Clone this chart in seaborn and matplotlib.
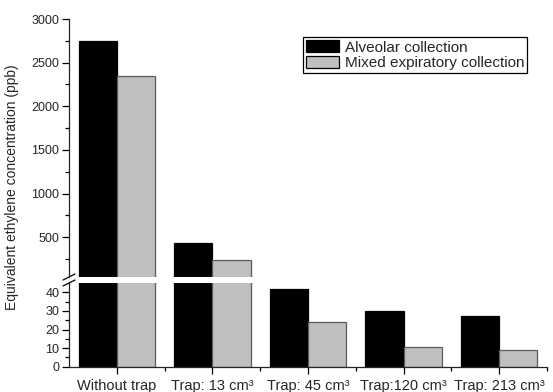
import matplotlib
matplotlib.use("Agg")
import matplotlib.pyplot as plt
from matplotlib.patches import Patch
from matplotlib.lines import Line2D
from matplotlib.ticker import FixedLocator
import seaborn as sns
import pandas as pd

# Measured concentrations (ppb)
categories = ["Without trap", "Trap: 13 cm³", "Trap: 45 cm³",
              "Trap:120 cm³", "Trap: 213 cm³"]
alveolar = [2750, 440, 42, 30, 27]
mixed = [2350, 240, 24, 10.5, 9]
series = ["Alveolar collection", "Mixed expiratory collection"]
colors = ["#000000", "#c0c0c0"]
edges = ["#000000", "#5a5a5a"]

df = pd.DataFrame({
    "trap": categories * 2,
    "value": alveolar + mixed,
    "series": [series[0]] * len(categories) + [series[1]] * len(categories),
})

sns.set_theme(style="ticks")
plt.rcParams["font.family"] = ["Liberation Sans", "DejaVu Sans"]

W, H = 553, 392
fig = plt.figure(figsize=(W / 100, H / 100), dpi=100)
fig.patch.set_facecolor("white")

x0, x1 = 69, 547
top_y0, top_y1 = 19, 277       # pixel rows of upper segment
bot_y0, bot_y1 = 283, 366.7    # pixel rows of lower segment
split = 45                     # value where the axis is broken

def fig_rect(ya, yb):
    return [x0 / W, 1 - yb / H, (x1 - x0) / W, (yb - ya) / H]

ax_top = fig.add_axes(fig_rect(top_y0, top_y1))
ax_bot = fig.add_axes(fig_rect(bot_y0, bot_y1))

for ax in (ax_top, ax_bot):
    sns.barplot(data=df, x="trap", y="value", hue="series",
                order=categories, hue_order=series, palette=colors,
                width=0.8, saturation=1, legend=False, ax=ax)
    for i, cont in enumerate(ax.containers):
        for p in cont:
            p.set_edgecolor(edges[i])
            p.set_linewidth(0.9)
            if ax is ax_top and p.get_height() < split:
                p.set_visible(False)
    ax.set_xlim(-0.5, len(categories) - 0.5)
    ax.set_xlabel("")
    ax.set_ylabel("")
    ax.set_facecolor("white")
    for s in ("top", "right"):
        ax.spines[s].set_visible(False)
    ax.spines["left"].set_linewidth(0.9)
    ax.spines["bottom"].set_linewidth(0.9)
    ax.tick_params(axis="both", which="major", direction="out", length=5,
                   width=0.9, labelsize=9, pad=2, color="black")
    ax.tick_params(axis="both", which="minor", direction="out", length=3,
                   width=0.9, color="black")

# Upper segment
ax_top.set_ylim(split, 3000)
ax_top.spines["bottom"].set_visible(False)
ax_top.tick_params(axis="x", which="both", bottom=False, labelbottom=False)
ax_top.yaxis.set_major_locator(FixedLocator([500, 1000, 1500, 2000, 2500, 3000]))
ax_top.yaxis.set_minor_locator(FixedLocator([250, 750, 1250, 1750, 2250, 2750]))

# Lower segment
ax_bot.set_ylim(0, split)
ax_bot.yaxis.set_major_locator(FixedLocator([0, 10, 20, 30, 40]))
ax_bot.yaxis.set_minor_locator(FixedLocator([5, 15, 25, 35]))
ax_bot.xaxis.set_minor_locator(FixedLocator([i + 0.5 for i in range(len(categories))]))
ax_bot.set_xticks(range(len(categories)))
ax_bot.set_xticklabels(categories, fontsize=10.5)
ax_bot.tick_params(axis="x", which="major", pad=3.5)

# Break marks on the left spine
for yc in (top_y1, bot_y0):
    fig.add_artist(Line2D([(x0 - 6) / W, (x0 + 6) / W],
                          [1 - (yc + 3) / H, 1 - (yc - 3) / H],
                          color="black", lw=0.9))

# Legend
handles = [Patch(facecolor=c, edgecolor="black", linewidth=0.9) for c in colors]
leg = ax_top.legend(handles, series, loc="upper left",
                    bbox_to_anchor=((302.7 - x0) / (x1 - x0),
                                    (top_y1 - 37.3) / (top_y1 - top_y0)),
                    fontsize=11, frameon=True, fancybox=False, framealpha=1,
                    edgecolor="black", borderpad=0.2, labelspacing=0.1,
                    handlelength=2.2, handleheight=0.8, handletextpad=0.35,
                    borderaxespad=0)
leg.get_frame().set_linewidth(0.9)

fig.text(12 / W, 1 - 187 / H, "Equivalent ethylene concentration (ppb)",
         rotation=90, ha="center", va="center", fontsize=10)

fig.savefig("out.png", dpi=100, facecolor="white")
